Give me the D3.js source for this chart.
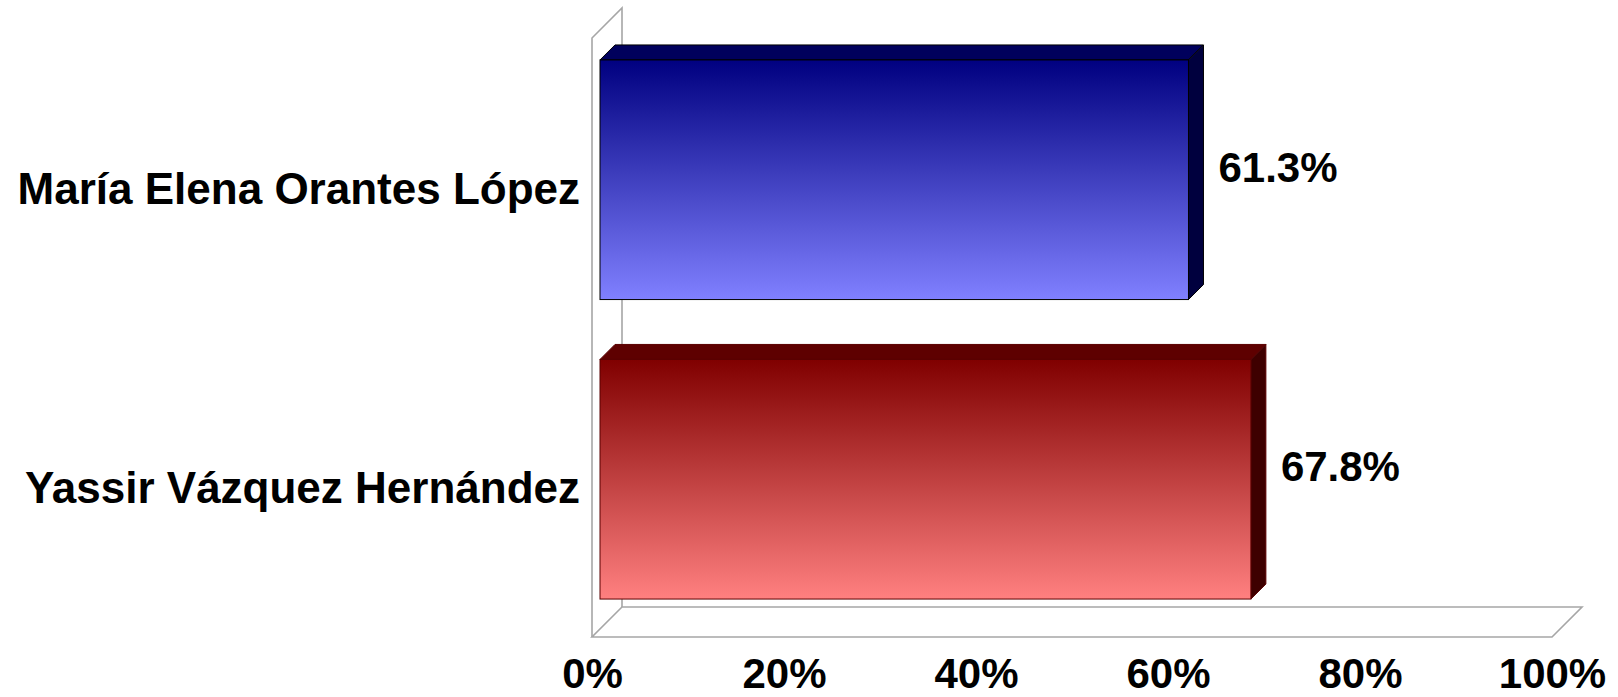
<!DOCTYPE html>
<html>
<head>
<meta charset="utf-8">
<script src="https://cdn.jsdelivr.net/npm/d3@7"></script>
<style>
  html, body { margin: 0; padding: 0; background: #ffffff; }
  svg { display: block; }
  text { font-family: "Liberation Sans", Arial, sans-serif; font-weight: bold; fill: #000; }
</style>
</head>
<body>
<svg id="chart" width="1618" height="697"></svg>
<script>
// ---- data ----
const categories = ["María Elena Orantes López", "Yassir Vázquez Hernández"];
const values = [61.3, 67.8];
const tickValues = [0, 20, 40, 60, 80, 100];

// ---- styles ----
const fills = [
  { top: "#000080", bottom: "#8080ff", lid: "#00005c", side: "#00003e", stroke: "#000000" },
  { top: "#800000", bottom: "#ff8080", lid: "#5e0000", side: "#3e0000", stroke: "#5a0000" }
];

const svg = d3.select("#chart");

// geometry of the 3D box (front plane)
const frontLeft = 592, frontRight = 1552, frontTop = 38, frontBottom = 637;
const depth = 30;           // wall depth (x right, y up)
const barOff = 8;           // bar front plane offset into the depth
const barDepth = 15;        // bar thickness in depth

// scales at the front plane (axes)
const xFront = d3.scaleLinear().domain([0, 100]).range([frontLeft, frontRight]);
const yFront = d3.scaleBand().domain(categories).range([frontTop, frontBottom])
  .paddingInner(0.2).paddingOuter(0.1);
// scales at the bar's front plane
const xBar = d3.scaleLinear().domain([0, 100]).range([frontLeft + barOff, frontRight + barOff]);
const yBar = d3.scaleBand().domain(categories).range([frontTop - barOff, frontBottom - barOff])
  .paddingInner(0.2).paddingOuter(0.1);

// ---- gradients ----
const defs = svg.append("defs");
fills.forEach((f, i) => {
  const g = defs.append("linearGradient").attr("id", "grad" + i)
    .attr("x1", 0).attr("y1", 0).attr("x2", 0).attr("y2", 1);
  g.append("stop").attr("offset", "0%").attr("stop-color", f.top);
  g.append("stop").attr("offset", "100%").attr("stop-color", f.bottom);
});

// ---- walls ----
const wallColor = "#a6a6a6";
const walls = svg.append("g").attr("fill", "none").attr("stroke", wallColor).attr("stroke-width", 1.6);
const bx0 = frontLeft + depth, by0 = frontTop - depth, bx1 = frontRight + depth, by1 = frontBottom - depth;
// left wall
walls.append("path").attr("d", `M${frontLeft},${frontBottom}L${frontLeft},${frontTop}L${bx0},${by0}L${bx0},${by1}`);
// floor
walls.append("path").attr("d", `M${frontLeft},${frontBottom}L${frontRight},${frontBottom}L${bx1},${by1}L${bx0},${by1}Z`);

// ---- bars ----
const bars = svg.append("g");
categories.forEach((c, i) => {
  const f = fills[i];
  const x0 = xBar(0), x1 = xBar(values[i]);
  const y0 = yBar(c), y1 = yBar(c) + yBar.bandwidth();
  const d = barDepth;
  // top face
  bars.append("path")
    .attr("d", `M${x0},${y0}L${x0 + d},${y0 - d}L${x1 + d},${y0 - d}L${x1},${y0}Z`)
    .attr("fill", f.lid).attr("stroke", f.stroke).attr("stroke-width", 1);
  // side face
  bars.append("path")
    .attr("d", `M${x1},${y0}L${x1 + d},${y0 - d}L${x1 + d},${y1 - d}L${x1},${y1}Z`)
    .attr("fill", f.side).attr("stroke", f.stroke).attr("stroke-width", 1);
  // front face
  bars.append("rect")
    .attr("x", x0).attr("y", y0).attr("width", x1 - x0).attr("height", y1 - y0)
    .attr("fill", `url(#grad${i})`).attr("stroke", f.stroke).attr("stroke-width", 1);
  // value label
  svg.append("text")
    .attr("x", x1 + d + 15)
    .attr("y", (y0 + y1) / 2 + 2)
    .attr("font-size", 42)
    .text(values[i].toFixed(1) + "%");
});

// ---- axes ----
const xAxis = svg.append("g")
  .attr("transform", `translate(0,${frontBottom})`)
  .call(d3.axisBottom(xFront).tickValues(tickValues).tickSize(0).tickFormat(d => d + "%"));
xAxis.select(".domain").remove();
xAxis.selectAll("text")
  .attr("y", 51).attr("dy", 0)
  .attr("font-size", 42)
  .attr("font-family", "Liberation Sans, Arial, sans-serif")
  .attr("font-weight", "bold")
  .attr("fill", "#000");

const yAxis = svg.append("g")
  .attr("transform", `translate(${frontLeft},0)`)
  .call(d3.axisLeft(yFront).tickSize(0).tickPadding(12));
yAxis.select(".domain").remove();
yAxis.selectAll("text")
  .attr("dy", "0.36em")
  .attr("font-size", 44)
  .attr("font-family", "Liberation Sans, Arial, sans-serif")
  .attr("font-weight", "bold")
  .attr("fill", "#000");
</script>
</body>
</html>
